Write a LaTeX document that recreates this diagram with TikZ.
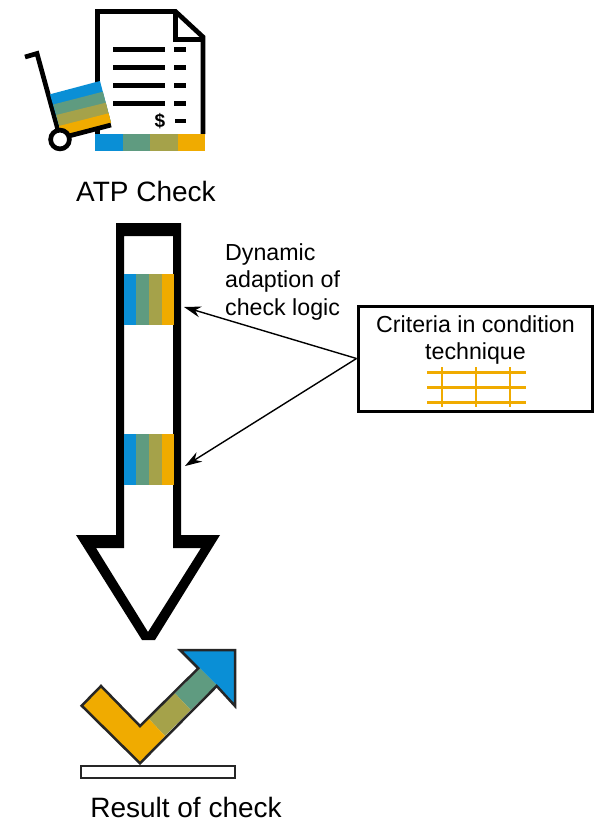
\documentclass[tikz,border=0pt]{standalone}
\usepackage{fontspec}
\setmainfont{Liberation Sans}
\usetikzlibrary{arrows.meta}
\definecolor{sapblue}{HTML}{0A8FD6}
\definecolor{sapgreen}{HTML}{5F9B80}
\definecolor{sapolive}{HTML}{A5A24A}
\definecolor{sapyellow}{HTML}{F0AB00}
\definecolor{checkline}{HTML}{262626}
\tikzstyle{caption} = [font=\fontsize{28}{32}\selectfont,inner sep=0pt]
\tikzstyle{note}    = [font=\fontsize{23.2}{27.5}\selectfont,inner sep=0pt]
\tikzstyle{critbox} = [draw,rectangle,line width=3pt,minimum width=234pt,minimum height=105pt,fill=white]
\tikzstyle{icon}    = [line width=4.7pt,miter limit=10]
\tikzstyle{checkedge} = [draw=checkline,line width=2.5pt]
\tikzstyle{grid}    = [draw=sapyellow,line width=2.8pt]
\tikzstyle{pointer} = [draw,line width=1.4pt,-{Stealth[length=17pt,width=11pt]}]
\begin{document}
\begin{tikzpicture}[x=1pt,y=-1pt]
	\useasboundingbox (0,0) rectangle (594,822);
	% document
	\draw [icon] (97.5,134) -- (97.5,11.5) -- (175.5,11.5) -- (203,37) -- (203,134);
	\draw [icon] (175.5,11.5) -- (175.5,39.5) -- (203,39.5);
	\foreach \y in {49.3,67.3,85.3,103.7}{
		\draw [icon] (113,\y) -- (165,\y);
		\draw [icon] (174,\y) -- (186,\y);
	}
	\draw [icon] (175,121) -- (186,121);
	\node [inner sep=0pt,font=\fontsize{19}{19}\selectfont\bfseries] (dollar) at (160,121.5) {\$};
	\fill [sapblue]   (95,134) rectangle (205,151);
	\fill [sapgreen]  (122.5,134) rectangle (205,151);
	\fill [sapolive]  (150,134) rectangle (205,151);
	\fill [sapyellow] (178,134) rectangle (205,151);
	% cart
	\draw [icon] (25,57) -- (37,53.5) -- (58,130);
	\fill [sapblue]   (50,94.3) -- (100,81) -- (111,123) -- (62,136) -- cycle;
	\fill [sapgreen]  (53.3,104.5) -- (102.9,91.7) -- (111,123) -- (62,136) -- cycle;
	\fill [sapolive]  (56.3,115) -- (105.8,102.7) -- (111,123) -- (62,136) -- cycle;
	\fill [sapyellow] (59,126) -- (108.6,113.3) -- (111,123) -- (62,136) -- cycle;
	\draw [icon] (65,137) -- (111,125);
	\draw [icon,fill=white] (60,139.5) circle (9.4);
	\node [caption] (atp) at (146,191.5) {ATP Check};
	% big arrow
	\fill [even odd rule] (116,223) -- (181,223) -- (181,535) -- (220,535) -- (155,640) -- (142,640) -- (76,535) -- (116,535) -- cycle
		(124,236) -- (173,236) -- (173,548) -- (201,548) -- (148,632) -- (96,548) -- (124,548) -- cycle;
	\foreach \y in {274,434}{
		\fill [sapblue]   (124,\y) rectangle (136,\y+51);
		\fill [sapgreen]  (136,\y) rectangle (149,\y+51);
		\fill [sapolive]  (149,\y) rectangle (162,\y+51);
		\fill [sapyellow] (162,\y) rectangle (174,\y+51);
	}
	\coordinate (patch1) at (184,307);
	\coordinate (patch2) at (185,466);
	\node [note,align=left,anchor=north west] (dynamic) at (225,243) {Dynamic\\adaption of\\check logic};
	% criteria
	\node [critbox] (criteria) at (475,358.5) {};
	\node [note,align=center] (crittext) at (475.5,340) {Criteria in condition\\technique};
	\foreach \y in {372.3,387.3,402.3}
		\draw [grid] (427,\y) -- (526,\y);
	\foreach \x in {442,476,510}
		\draw [grid] (\x,367) -- (\x,407);
	\draw [pointer] (criteria.west) -- (patch1);
	\draw [pointer] (criteria.west) -- (patch2);
	% check mark
	\fill [sapblue]   (200,668.3) -- (180,650) -- (235,650) -- (235,706) -- (216.7,685) -- cycle;
	\fill [sapgreen]  (175,693.3) -- (200,668.3) -- (216.7,685) -- (190.7,710) -- cycle;
	\fill [sapolive]  (148.3,718.3) -- (175,693.3) -- (190.7,710) -- (165,736) -- cycle;
	\fill [sapyellow] (81.7,705.7) -- (101,686) -- (140,726) -- (148.3,718.3) -- (165,736) -- (140,763.3) -- cycle;
	\draw [checkedge] (81.7,705.7) -- (101,686) -- (140,726) -- (198.3,668.3) -- (180,650) -- (235,650) -- (235,706) -- (216.7,686) -- (140,763.3) -- cycle;
	\draw [checkedge,fill=white] (81,766) rectangle (235,778);
	\node [caption] (result) at (186,807.5) {Result of check};
\end{tikzpicture}
\end{document}
